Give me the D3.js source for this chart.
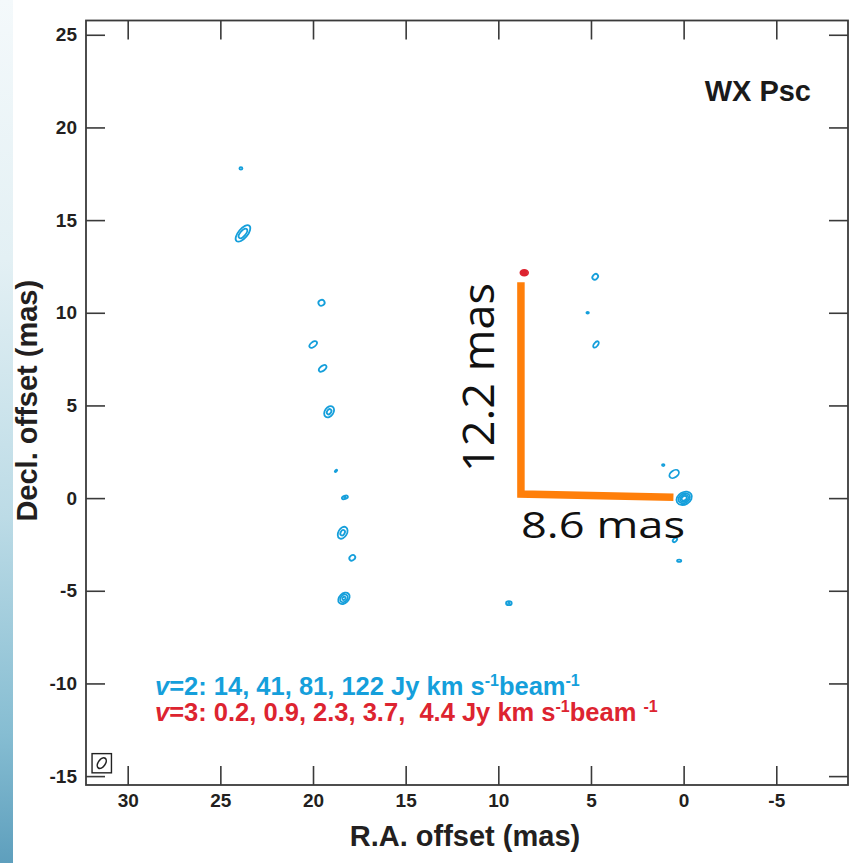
<!DOCTYPE html>
<html>
<head>
<meta charset="utf-8">
<script src="https://cdn.jsdelivr.net/npm/d3@7"></script>
<style>
  html, body { margin: 0; padding: 0; background: #ffffff; }
  svg { display: block; }
  text { white-space: pre; }
</style>
</head>
<body>
<script>
// Axis ticks (mas)
const raTicks = [30, 25, 20, 15, 10, 5, 0, -5];
const decTicks = [25, 20, 15, 10, 5, 0, -5, -10, -15];

// Contour levels (Jy km s^-1 beam^-1)
const v2Levels = [14, 41, 81, 122];
const v3Levels = [0.2, 0.9, 2.3, 3.7, 4.4];

// SiO v=2 maser spots: position offset (mas), peak (Jy km/s/beam),
// Gaussian widths (mas) and tilt of the major axis (deg from R.A. axis)
const v2RA     = [23.89, 23.78, 19.54, 19.99, 19.48, 19.13, 18.76, 18.28, 18.40, 17.88, 18.33, 4.77, 5.18, 4.73, 1.10, 0.51, -0.03, 0.47, 0.24, 9.43];
const v2Dec    = [17.79, 14.28, 10.54, 8.29, 7.00, 4.66, 1.47, 0.04, -1.87, -3.22, -5.41, 11.94, 10.00, 8.29, 1.78, 1.30, -0.01, -2.26, -3.38, -5.67];
const v2Peak   = [15.5, 70, 22, 22, 22, 55, 15.5, 45, 55, 22, 95, 22, 15.5, 22, 15.5, 30, 160, 20, 18, 45];
const v2SigMaj = [0.18, 0.30, 0.18, 0.25, 0.25, 0.20, 0.18, 0.11, 0.21, 0.18, 0.18, 0.18, 0.15, 0.21, 0.15, 0.23, 0.20, 0.16, 0.16, 0.10];
const v2SigMin = [0.15, 0.14, 0.16, 0.14, 0.14, 0.14, 0.09, 0.06, 0.14, 0.14, 0.13, 0.14, 0.11, 0.11, 0.11, 0.15, 0.15, 0.11, 0.09, 0.07];
const v2Tilt   = [0, 50, 30, 40, 40, 55, 45, 20, 60, 40, 45, 45, 0, 50, 0, 35, 30, 45, 0, 0];

// SiO v=3 maser spot
const v3RA     = [8.60];
const v3Dec    = [12.16];
const v3Peak   = [5.0];
const v3SigMaj = [0.085];
const v3SigMin = [0.065];
const v3Tilt   = [0];

// Synthesized beam (mas, deg)
const beamMaj = 0.32, beamMin = 0.19, beamTilt = 55;

// Offset of the v=3 spot from the reference position (mas)
const sepDec = 12.2;
const sepRA = 8.6;

const W = 850, H = 863;
const frame = { left: 86, right: 848, top: 20.5, bottom: 785 };

const x = d3.scaleLinear().domain([32.25, -8.87]).range([frame.left, frame.right]);
const y = d3.scaleLinear().domain([-15.48, 25.77]).range([frame.bottom, frame.top]);
const pxPerMas = Math.abs(x(1) - x(0));

const blue = "#159fdb";
const red = "#dd2430";
const ink = "#231f20";
const axisFont = "'Liberation Sans', Arial, Helvetica, sans-serif";
const tickFmt = d => String(d);   // plain hyphen-minus for negative values

const svg = d3.select("body").append("svg")
  .attr("width", W).attr("height", H)
  .attr("viewBox", `0 0 ${W} ${H}`);

// Slide background strip on the left
const defs = svg.append("defs");
const grad = defs.append("linearGradient").attr("id", "strip")
  .attr("x1", 0).attr("y1", 0).attr("x2", 0).attr("y2", 1);
[[0, "#f4f9fb"], [0.3, "#e3f0f4"], [0.6, "#bcdbe6"], [0.85, "#86bdd2"], [1, "#5e9fbd"]]
  .forEach(([o, c]) => grad.append("stop").attr("offset", o).attr("stop-color", c));
svg.append("rect").attr("x", 0).attr("y", 0).attr("width", 13).attr("height", H)
  .attr("fill", "url(#strip)");

// Axes with inward ticks on all four sides
const tickLen = 19;
const gBottom = svg.append("g").attr("transform", `translate(0,${frame.bottom})`)
  .call(d3.axisBottom(x).tickValues(raTicks).tickSizeInner(-tickLen).tickSizeOuter(0).tickPadding(9).tickFormat(tickFmt));
const gTop = svg.append("g").attr("transform", `translate(0,${frame.top})`)
  .call(d3.axisTop(x).tickValues(raTicks).tickSizeInner(-tickLen).tickSizeOuter(0).tickFormat(""));
const gLeft = svg.append("g").attr("transform", `translate(${frame.left},0)`)
  .call(d3.axisLeft(y).tickValues(decTicks).tickSizeInner(-tickLen).tickSizeOuter(0).tickPadding(9).tickFormat(tickFmt));
const gRight = svg.append("g").attr("transform", `translate(${frame.right},0)`)
  .call(d3.axisRight(y).tickValues(decTicks).tickSizeInner(-tickLen).tickSizeOuter(0).tickFormat(""));

[gBottom, gTop, gLeft, gRight].forEach(g => {
  g.select(".domain").remove();
  g.selectAll(".tick line").attr("stroke", "#3a3a3a").attr("stroke-width", 1.6);
  g.selectAll(".tick text").attr("fill", ink)
    .style("font-family", axisFont).style("font-weight", "bold").style("font-size", "19px");
});

// Frame
svg.append("rect")
  .attr("x", frame.left).attr("y", frame.top)
  .attr("width", frame.right - frame.left).attr("height", frame.bottom - frame.top)
  .attr("fill", "none").attr("stroke", "#3a3a3a").attr("stroke-width", 1.8);

// Axis titles
svg.append("text")
  .attr("x", (frame.left + frame.right) / 2 - 2).attr("y", 846)
  .attr("text-anchor", "middle").attr("fill", ink)
  .style("font-family", axisFont).style("font-weight", "bold").style("font-size", "29px")
  .text("R.A. offset (mas)");
svg.append("text")
  .attr("transform", `translate(37,${(frame.top + frame.bottom) / 2 - 2}) rotate(-90)`)
  .attr("text-anchor", "middle").attr("fill", ink)
  .style("font-family", axisFont).style("font-weight", "bold").style("font-size", "29px")
  .text("Decl. offset (mas)");

// Source name
svg.append("text")
  .attr("x", 811).attr("y", 101).attr("text-anchor", "end").attr("fill", "#1a1a1a")
  .style("font-family", axisFont).style("font-weight", "bold").style("font-size", "29px")
  .text("WX Psc");

// Contours of a Gaussian spot: radius at level L is sigma*sqrt(2 ln(peak/L))
function contours(ra, dec, peak, sMaj, sMin, tilt, levels) {
  const out = [];
  ra.forEach((r, i) => {
    levels.forEach(L => {
      if (peak[i] > L) {
        const k = Math.sqrt(2 * Math.log(peak[i] / L));
        out.push({ ra: r, dec: dec[i], rx: sMaj[i] * k * pxPerMas, ry: sMin[i] * k * pxPerMas, tilt: tilt[i] });
      }
    });
  });
  return out;
}

function drawContours(data, color, width) {
  svg.append("g").selectAll("ellipse").data(data).join("ellipse")
    .attr("transform", d => `translate(${x(d.ra)},${y(d.dec)}) rotate(${-d.tilt})`)
    .attr("rx", d => Math.max(d.rx, 0.7)).attr("ry", d => Math.max(d.ry, 0.6))
    .attr("fill", "none").attr("stroke", color).attr("stroke-width", width);
}

drawContours(contours(v2RA, v2Dec, v2Peak, v2SigMaj, v2SigMin, v2Tilt, v2Levels), blue, 1.8);
drawContours(contours(v3RA, v3Dec, v3Peak, v3SigMaj, v3SigMin, v3Tilt, v3Levels), red, 1.5);

// Beam box in the lower-left corner
const beamX = x(31.4), beamY = y(-14.3);
svg.append("rect")
  .attr("x", beamX - 9.7).attr("y", beamY - 9.5).attr("width", 19.4).attr("height", 19.2)
  .attr("fill", "none").attr("stroke", "#222").attr("stroke-width", 1.4);
svg.append("ellipse")
  .attr("transform", `translate(${beamX},${beamY}) rotate(${-beamTilt})`)
  .attr("rx", beamMaj * pxPerMas).attr("ry", beamMin * pxPerMas)
  .attr("fill", "none").attr("stroke", "#222").attr("stroke-width", 1.6);

// Contour level legend
function legendLine(yPos, color, vLabel, levels, sep, unitGap) {
  const t = svg.append("text").attr("x", 155).attr("y", yPos).attr("fill", color)
    .style("font-family", axisFont).style("font-weight", "bold").style("font-size", "25.5px");
  t.append("tspan").style("font-style", "italic").text("v");
  t.append("tspan").text(`=${vLabel}: ` + levels.slice(0, -1).join(", ") + sep + levels[levels.length - 1] + " Jy km s");
  t.append("tspan").attr("dy", -9).style("font-size", "16px").text("-1");
  t.append("tspan").attr("dy", 9).text("beam" + unitGap);
  t.append("tspan").attr("dy", -9).style("font-size", "16px").text("-1");
}
legendLine(695, blue, "2", v2Levels, ", ", "");
legendLine(721, red, "3", v3Levels, ",  ", " ");

// Offset of the v=3 spot from the reference position
const orange = "#ff7f0a";
const gap = 0.55;
const corner = { ra: sepRA + 0.18, dec: 0.22 };
svg.append("path")
  .attr("d", d3.line()([
    [x(corner.ra), y(sepDec - gap)],
    [x(corner.ra), y(corner.dec)],
    [x(0 + gap), y(0.05)]
  ]))
  .attr("fill", "none").attr("stroke", orange).attr("stroke-width", 7.5)
  .attr("stroke-linejoin", "miter");

const annFont = "'Open Sans', 'Noto Sans', sans-serif";
svg.append("text")
  .attr("transform", `translate(494,472) rotate(-90)`)
  .attr("fill", "#111").attr("textLength", 189).attr("lengthAdjust", "spacingAndGlyphs")
  .style("font-family", annFont).style("font-size", "43px")
  .text(`${sepDec} mas`);
svg.append("text")
  .attr("x", 521).attr("y", 538)
  .attr("fill", "#111").attr("textLength", 164).attr("lengthAdjust", "spacingAndGlyphs")
  .style("font-family", annFont).style("font-size", "37px")
  .text(`${sepRA} mas`);
</script>
</body>
</html>
